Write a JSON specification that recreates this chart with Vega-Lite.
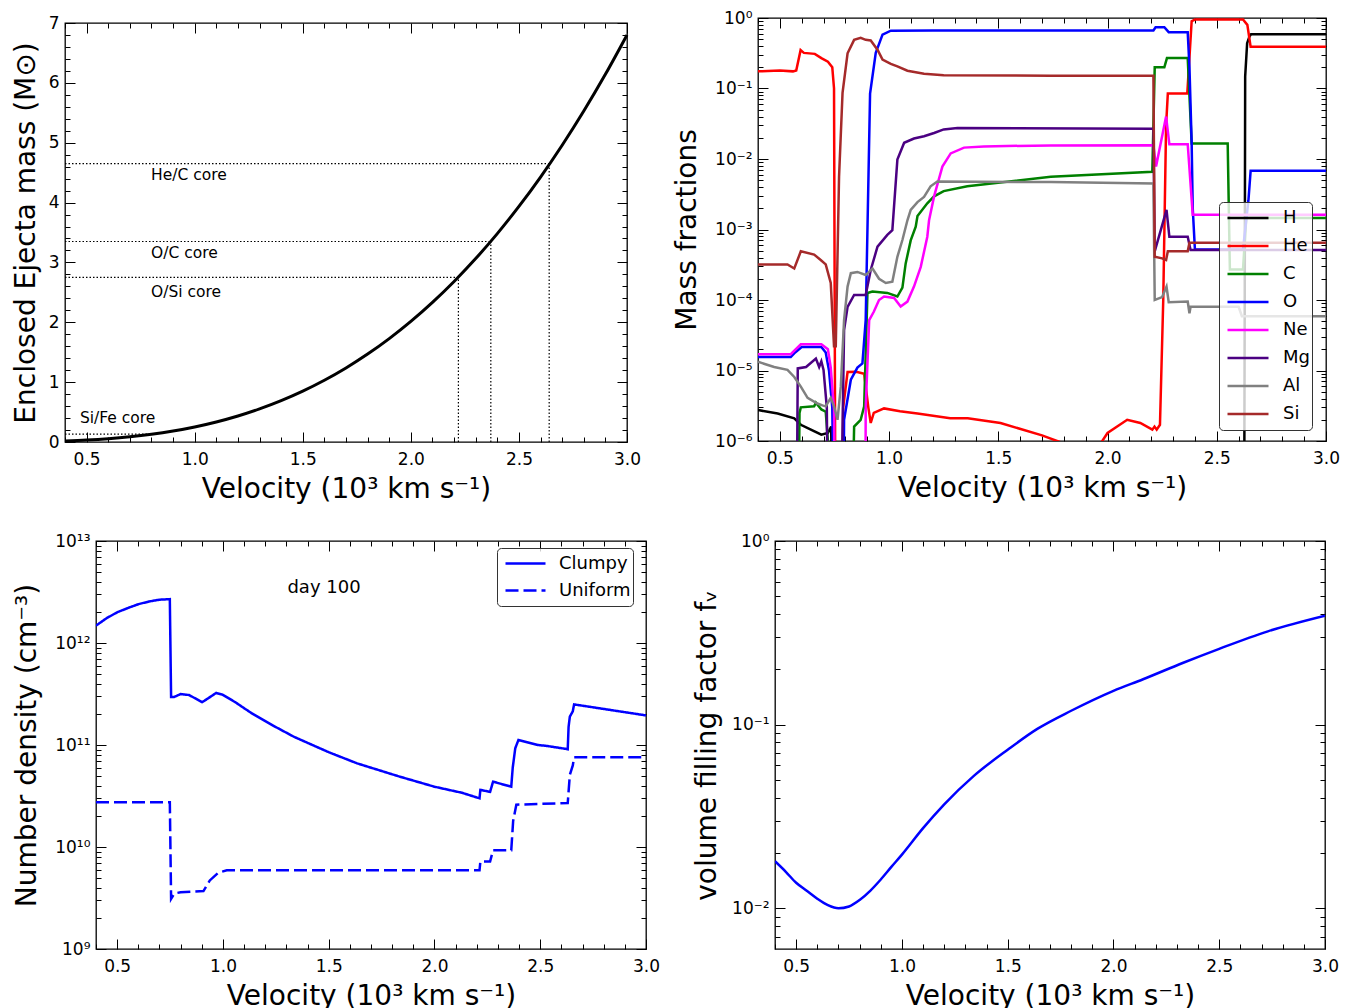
{
  "$schema": "https://vega.github.io/schema/vega-lite/v6.json",
  "padding": {"left": 11, "top": 8, "right": 5, "bottom": 5},
  "background": "white",
  "datasets": {
    "mass": [
      {"v": 0.4, "m": 0.0161}, {"v": 0.5, "m": 0.0315}, {"v": 0.6, "m": 0.0544}, {"v": 0.7, "m": 0.0864},
      {"v": 0.8, "m": 0.1289}, {"v": 0.9, "m": 0.1836}, {"v": 1.0, "m": 0.2519}, {"v": 1.1, "m": 0.3352},
      {"v": 1.2, "m": 0.4352}, {"v": 1.3, "m": 0.5533}, {"v": 1.4, "m": 0.6911}, {"v": 1.5, "m": 0.85},
      {"v": 1.6, "m": 1.0316}, {"v": 1.7, "m": 1.2373}, {"v": 1.8, "m": 1.4688}, {"v": 1.9, "m": 1.7274},
      {"v": 2.0, "m": 2.0148}, {"v": 2.1, "m": 2.3324}, {"v": 2.2, "m": 2.6817}, {"v": 2.3, "m": 3.0642},
      {"v": 2.4, "m": 3.4815}, {"v": 2.5, "m": 3.9352}, {"v": 2.6, "m": 4.4265}, {"v": 2.7, "m": 4.9572},
      {"v": 2.8, "m": 5.5287}, {"v": 2.9, "m": 6.1424}, {"v": 3.0, "m": 6.8}
    ],
    "cores": [
      {"x1": 0.4, "x2": 2.64, "y1": 4.65, "y2": 4.65},
      {"x1": 2.64, "x2": 2.64, "y1": 0, "y2": 4.65},
      {"x1": 0.4, "x2": 2.37, "y1": 3.35, "y2": 3.35},
      {"x1": 2.37, "x2": 2.37, "y1": 0, "y2": 3.35},
      {"x1": 0.4, "x2": 2.22, "y1": 2.75, "y2": 2.75},
      {"x1": 2.22, "x2": 2.22, "y1": 0, "y2": 2.75},
      {"x1": 0.4, "x2": 0.8, "y1": 0.13, "y2": 0.13}
    ],
    "corelabels": [
      {"x": 0.798, "y": 4.46, "t": "He/C core"},
      {"x": 0.798, "y": 3.16, "t": "O/C core"},
      {"x": 0.798, "y": 2.5, "t": "O/Si core"},
      {"x": 0.469, "y": 0.4, "t": "Si/Fe core"}
    ],
    "frac": [
      {"s":"H","v":0.4,"f":2.75e-6},{"s":"H","v":0.49,"f":2.45e-6},{"s":"H","v":0.566,"f":2.1e-6},{"s":"H","v":0.596,"f":1.7e-6},{"s":"H","v":0.642,"f":1.45e-6},{"s":"H","v":0.69,"f":1.23e-6},{"s":"H","v":0.72,"f":1.3e-6},{"s":"H","v":0.735,"f":1.6e-6},{"s":"H","v":0.745,"f":1e-9},{"s":"H","v":2.624,"f":1e-9},{"s":"H","v":2.628,"f":1e-4},{"s":"H","v":2.63,"f":0.148},{"s":"H","v":2.639,"f":0.44},{"s":"H","v":2.65,"f":0.55},{"s":"H","v":2.657,"f":0.59},{"s":"H","v":3.0,"f":0.59},
      {"s":"He","v":0.4,"f":0.175},{"s":"He","v":0.5,"f":0.18},{"s":"He","v":0.56,"f":0.175},{"s":"He","v":0.575,"f":0.18},{"s":"He","v":0.595,"f":0.35},{"s":"He","v":0.61,"f":0.32},{"s":"He","v":0.66,"f":0.31},{"s":"He","v":0.69,"f":0.27},{"s":"He","v":0.72,"f":0.24},{"s":"He","v":0.74,"f":0.2},{"s":"He","v":0.748,"f":0.1},{"s":"He","v":0.756,"f":1e-9},{"s":"He","v":0.78,"f":1e-9},{"s":"He","v":0.79,"f":3e-6},{"s":"He","v":0.81,"f":9.5e-6},{"s":"He","v":0.85,"f":9.6e-6},{"s":"He","v":0.886,"f":9e-6},{"s":"He","v":0.905,"f":3e-6},{"s":"He","v":0.916,"f":1.8e-6},{"s":"He","v":0.93,"f":2.5e-6},{"s":"He","v":0.977,"f":2.9e-6},{"s":"He","v":1.05,"f":2.65e-6},{"s":"He","v":1.13,"f":2.45e-6},{"s":"He","v":1.28,"f":2.1e-6},{"s":"He","v":1.36,"f":2.1e-6},{"s":"He","v":1.51,"f":1.8e-6},{"s":"He","v":1.7,"f":1.2e-6},{"s":"He","v":1.81,"f":9e-7},{"s":"He","v":1.88,"f":5e-7},{"s":"He","v":1.955,"f":8e-7},{"s":"He","v":2.0,"f":1.3e-6},{"s":"He","v":2.09,"f":2.0e-6},{"s":"He","v":2.15,"f":1.8e-6},{"s":"He","v":2.205,"f":1.45e-6},{"s":"He","v":2.215,"f":1.6e-6},{"s":"He","v":2.225,"f":1.45e-6},{"s":"He","v":2.24,"f":1.7e-6},{"s":"He","v":2.255,"f":1e-4},{"s":"He","v":2.268,"f":0.03},{"s":"He","v":2.276,"f":0.085},{"s":"He","v":2.365,"f":0.085},{"s":"He","v":2.385,"f":0.9},{"s":"He","v":2.4,"f":0.95},{"s":"He","v":2.62,"f":0.95},{"s":"He","v":2.64,"f":0.8},{"s":"He","v":2.655,"f":0.39},{"s":"He","v":3.0,"f":0.39},
      {"s":"C","v":0.58,"f":1e-9},{"s":"C","v":0.59,"f":2.5e-6},{"s":"C","v":0.596,"f":3.0e-6},{"s":"C","v":0.657,"f":3.1e-6},{"s":"C","v":0.665,"f":3.5e-6},{"s":"C","v":0.69,"f":2.8e-6},{"s":"C","v":0.71,"f":2.6e-6},{"s":"C","v":0.72,"f":1e-6},{"s":"C","v":0.725,"f":1e-9},{"s":"C","v":0.82,"f":1e-9},{"s":"C","v":0.84,"f":1.6e-6},{"s":"C","v":0.87,"f":2e-6},{"s":"C","v":0.886,"f":3.1e-6},{"s":"C","v":0.901,"f":1.26e-4},{"s":"C","v":0.924,"f":1.32e-4},{"s":"C","v":0.992,"f":1.26e-4},{"s":"C","v":1.038,"f":1.12e-4},{"s":"C","v":1.061,"f":1.5e-4},{"s":"C","v":1.076,"f":3.3e-4},{"s":"C","v":1.099,"f":7e-4},{"s":"C","v":1.122,"f":1.1e-3},{"s":"C","v":1.13,"f":1.55e-3},{"s":"C","v":1.175,"f":2.35e-3},{"s":"C","v":1.206,"f":2.95e-3},{"s":"C","v":1.25,"f":3.5e-3},{"s":"C","v":1.358,"f":4.1e-3},{"s":"C","v":1.74,"f":5.6e-3},{"s":"C","v":2.205,"f":6.6e-3},{"s":"C","v":2.216,"f":0.2},{"s":"C","v":2.26,"f":0.2},{"s":"C","v":2.272,"f":0.27},{"s":"C","v":2.367,"f":0.27},{"s":"C","v":2.385,"f":0.0166},{"s":"C","v":2.55,"f":0.0166},{"s":"C","v":2.56,"f":2.7e-4},{"s":"C","v":2.62,"f":2.7e-4},{"s":"C","v":2.635,"f":1.45e-3},{"s":"C","v":3.0,"f":1.45e-3},
      {"s":"O","v":0.4,"f":1.55e-5},{"s":"O","v":0.55,"f":1.55e-5},{"s":"O","v":0.57,"f":1.8e-5},{"s":"O","v":0.6,"f":2.15e-5},{"s":"O","v":0.69,"f":2.15e-5},{"s":"O","v":0.71,"f":1.8e-5},{"s":"O","v":0.725,"f":1.0e-5},{"s":"O","v":0.74,"f":3e-6},{"s":"O","v":0.756,"f":1e-9},{"s":"O","v":0.787,"f":1e-9},{"s":"O","v":0.794,"f":2e-6},{"s":"O","v":0.825,"f":7.4e-6},{"s":"O","v":0.855,"f":1.1e-5},{"s":"O","v":0.878,"f":1.26e-5},{"s":"O","v":0.893,"f":5.2e-5},{"s":"O","v":0.901,"f":1e-3},{"s":"O","v":0.913,"f":0.085},{"s":"O","v":0.939,"f":0.32},{"s":"O","v":0.97,"f":0.58},{"s":"O","v":1.008,"f":0.66},{"s":"O","v":1.2,"f":0.665},{"s":"O","v":2.21,"f":0.665},{"s":"O","v":2.22,"f":0.74},{"s":"O","v":2.26,"f":0.74},{"s":"O","v":2.28,"f":0.63},{"s":"O","v":2.367,"f":0.63},{"s":"O","v":2.375,"f":0.2},{"s":"O","v":2.385,"f":0.017},{"s":"O","v":2.39,"f":0.002},{"s":"O","v":2.4,"f":5.2e-4},{"s":"O","v":2.62,"f":5.2e-4},{"s":"O","v":2.645,"f":2.6e-3},{"s":"O","v":2.655,"f":6.8e-3},{"s":"O","v":3.0,"f":6.8e-3},
      {"s":"Ne","v":0.4,"f":1.7e-5},{"s":"Ne","v":0.55,"f":1.7e-5},{"s":"Ne","v":0.596,"f":2.35e-5},{"s":"Ne","v":0.69,"f":2.35e-5},{"s":"Ne","v":0.72,"f":2.0e-5},{"s":"Ne","v":0.733,"f":1.1e-5},{"s":"Ne","v":0.748,"f":2.8e-6},{"s":"Ne","v":0.757,"f":1e-9},{"s":"Ne","v":0.89,"f":1e-9},{"s":"Ne","v":0.893,"f":3e-6},{"s":"Ne","v":0.909,"f":5.2e-5},{"s":"Ne","v":0.93,"f":6.8e-5},{"s":"Ne","v":0.954,"f":1e-4},{"s":"Ne","v":0.977,"f":1.12e-4},{"s":"Ne","v":1.023,"f":1.07e-4},{"s":"Ne","v":1.053,"f":8.1e-5},{"s":"Ne","v":1.084,"f":9.5e-5},{"s":"Ne","v":1.114,"f":1.55e-4},{"s":"Ne","v":1.145,"f":2.95e-4},{"s":"Ne","v":1.175,"f":7.9e-4},{"s":"Ne","v":1.183,"f":1.35e-3},{"s":"Ne","v":1.206,"f":2.95e-3},{"s":"Ne","v":1.244,"f":7.8e-3},{"s":"Ne","v":1.282,"f":0.012},{"s":"Ne","v":1.343,"f":0.0145},{"s":"Ne","v":1.434,"f":0.0151},{"s":"Ne","v":1.74,"f":0.0156},{"s":"Ne","v":2.21,"f":0.0157},{"s":"Ne","v":2.222,"f":7.8e-3},{"s":"Ne","v":2.268,"f":0.04},{"s":"Ne","v":2.283,"f":0.0162},{"s":"Ne","v":2.367,"f":0.0162},{"s":"Ne","v":2.39,"f":1.62e-3},{"s":"Ne","v":3.0,"f":1.62e-3},
      {"s":"Mg","v":0.573,"f":1e-9},{"s":"Mg","v":0.582,"f":1.07e-5},{"s":"Mg","v":0.62,"f":1.12e-5},{"s":"Mg","v":0.665,"f":1.48e-5},{"s":"Mg","v":0.68,"f":1.12e-5},{"s":"Mg","v":0.69,"f":1.35e-5},{"s":"Mg","v":0.7,"f":1.02e-5},{"s":"Mg","v":0.715,"f":3e-6},{"s":"Mg","v":0.725,"f":1e-9},{"s":"Mg","v":0.771,"f":1e-9},{"s":"Mg","v":0.794,"f":3.76e-5},{"s":"Mg","v":0.81,"f":8.0e-5},{"s":"Mg","v":0.84,"f":1.18e-4},{"s":"Mg","v":0.893,"f":1.18e-4},{"s":"Mg","v":0.916,"f":2.67e-4},{"s":"Mg","v":0.947,"f":5.7e-4},{"s":"Mg","v":0.992,"f":8.4e-4},{"s":"Mg","v":1.015,"f":9.8e-4},{"s":"Mg","v":1.038,"f":9.8e-3},{"s":"Mg","v":1.069,"f":0.017},{"s":"Mg","v":1.114,"f":0.0195},{"s":"Mg","v":1.16,"f":0.021},{"s":"Mg","v":1.206,"f":0.0234},{"s":"Mg","v":1.25,"f":0.0263},{"s":"Mg","v":1.313,"f":0.0275},{"s":"Mg","v":2.21,"f":0.0268},{"s":"Mg","v":2.216,"f":4.9e-4},{"s":"Mg","v":2.27,"f":1.9e-3},{"s":"Mg","v":2.283,"f":7.9e-4},{"s":"Mg","v":2.367,"f":7.9e-4},{"s":"Mg","v":2.38,"f":5.1e-4},{"s":"Mg","v":3.0,"f":5.1e-4},
      {"s":"Al","v":0.4,"f":1.33e-5},{"s":"Al","v":0.474,"f":1.12e-5},{"s":"Al","v":0.535,"f":1.02e-5},{"s":"Al","v":0.566,"f":8.1e-6},{"s":"Al","v":0.596,"f":5.9e-6},{"s":"Al","v":0.627,"f":4.1e-6},{"s":"Al","v":0.672,"f":3.4e-6},{"s":"Al","v":0.695,"f":3.2e-6},{"s":"Al","v":0.71,"f":3.1e-6},{"s":"Al","v":0.733,"f":4.1e-6},{"s":"Al","v":0.748,"f":3.1e-6},{"s":"Al","v":0.764,"f":2.0e-6},{"s":"Al","v":0.779,"f":5.9e-6},{"s":"Al","v":0.794,"f":5.2e-5},{"s":"Al","v":0.81,"f":1.55e-4},{"s":"Al","v":0.825,"f":2.4e-4},{"s":"Al","v":0.855,"f":2.5e-4},{"s":"Al","v":0.893,"f":2.26e-4},{"s":"Al","v":0.924,"f":2.8e-4},{"s":"Al","v":0.954,"f":2.0e-4},{"s":"Al","v":0.985,"f":1.74e-4},{"s":"Al","v":1.015,"f":1.82e-4},{"s":"Al","v":1.038,"f":4.1e-4},{"s":"Al","v":1.061,"f":7.1e-4},{"s":"Al","v":1.084,"f":1.35e-3},{"s":"Al","v":1.099,"f":1.9e-3},{"s":"Al","v":1.13,"f":2.45e-3},{"s":"Al","v":1.16,"f":2.9e-3},{"s":"Al","v":1.19,"f":4.1e-3},{"s":"Al","v":1.221,"f":4.8e-3},{"s":"Al","v":1.74,"f":4.7e-3},{"s":"Al","v":2.21,"f":4.5e-3},{"s":"Al","v":2.216,"f":1.0e-4},{"s":"Al","v":2.25,"f":1.1e-4},{"s":"Al","v":2.27,"f":1.55e-4},{"s":"Al","v":2.28,"f":9.3e-5},{"s":"Al","v":2.367,"f":9.5e-5},{"s":"Al","v":2.375,"f":6.5e-5},{"s":"Al","v":2.38,"f":8e-5},{"s":"Al","v":2.6,"f":8e-5},{"s":"Al","v":2.615,"f":5.9e-5},{"s":"Al","v":3.0,"f":5.9e-5},
      {"s":"Si","v":0.4,"f":3.2e-4},{"s":"Si","v":0.535,"f":3.2e-4},{"s":"Si","v":0.566,"f":2.8e-4},{"s":"Si","v":0.596,"f":4.9e-4},{"s":"Si","v":0.657,"f":4.4e-4},{"s":"Si","v":0.687,"f":3.7e-4},{"s":"Si","v":0.71,"f":3.2e-4},{"s":"Si","v":0.733,"f":1.74e-4},{"s":"Si","v":0.748,"f":2.2e-5},{"s":"Si","v":0.756,"f":2.2e-5},{"s":"Si","v":0.771,"f":5.6e-3},{"s":"Si","v":0.787,"f":0.087},{"s":"Si","v":0.81,"f":0.316},{"s":"Si","v":0.84,"f":0.49},{"s":"Si","v":0.87,"f":0.525},{"s":"Si","v":0.893,"f":0.49},{"s":"Si","v":0.916,"f":0.48},{"s":"Si","v":0.947,"f":0.355},{"s":"Si","v":0.97,"f":0.257},{"s":"Si","v":1.008,"f":0.224},{"s":"Si","v":1.038,"f":0.206},{"s":"Si","v":1.084,"f":0.179},{"s":"Si","v":1.16,"f":0.162},{"s":"Si","v":1.25,"f":0.154},{"s":"Si","v":1.74,"f":0.152},{"s":"Si","v":2.21,"f":0.152},{"s":"Si","v":2.216,"f":4.1e-4},{"s":"Si","v":2.25,"f":3.9e-4},{"s":"Si","v":2.268,"f":3.7e-4},{"s":"Si","v":2.276,"f":4.9e-4},{"s":"Si","v":2.367,"f":4.9e-4},{"s":"Si","v":2.375,"f":6.5e-4},{"s":"Si","v":3.0,"f":6.5e-4}
    ],
    "dens": [
      {"t":"Clumpy","v":0.4,"n":1.48e12},{"t":"Clumpy","v":0.45,"n":1.75e12},{"t":"Clumpy","v":0.5,"n":2.0e12},{"t":"Clumpy","v":0.55,"n":2.2e12},{"t":"Clumpy","v":0.6,"n":2.4e12},{"t":"Clumpy","v":0.65,"n":2.55e12},{"t":"Clumpy","v":0.7,"n":2.66e12},{"t":"Clumpy","v":0.749,"n":2.69e12},{"t":"Clumpy","v":0.755,"n":2.95e11},{"t":"Clumpy","v":0.769,"n":2.95e11},{"t":"Clumpy","v":0.8,"n":3.16e11},{"t":"Clumpy","v":0.84,"n":3.09e11},{"t":"Clumpy","v":0.902,"n":2.63e11},{"t":"Clumpy","v":0.928,"n":2.85e11},{"t":"Clumpy","v":0.968,"n":3.24e11},{"t":"Clumpy","v":0.998,"n":3.12e11},{"t":"Clumpy","v":1.058,"n":2.63e11},{"t":"Clumpy","v":1.137,"n":2.04e11},{"t":"Clumpy","v":1.237,"n":1.55e11},{"t":"Clumpy","v":1.337,"n":1.2e11},{"t":"Clumpy","v":1.5,"n":8.5e10},{"t":"Clumpy","v":1.635,"n":6.6e10},{"t":"Clumpy","v":1.835,"n":4.9e10},{"t":"Clumpy","v":2.0,"n":3.9e10},{"t":"Clumpy","v":2.13,"n":3.4e10},{"t":"Clumpy","v":2.213,"n":3.0e10},{"t":"Clumpy","v":2.217,"n":3.63e10},{"t":"Clumpy","v":2.263,"n":3.47e10},{"t":"Clumpy","v":2.277,"n":4.37e10},{"t":"Clumpy","v":2.363,"n":3.9e10},{"t":"Clumpy","v":2.37,"n":6e10},{"t":"Clumpy","v":2.382,"n":9.3e10},{"t":"Clumpy","v":2.397,"n":1.12e11},{"t":"Clumpy","v":2.49,"n":1.0e11},{"t":"Clumpy","v":2.53,"n":9.8e10},{"t":"Clumpy","v":2.63,"n":9.1e10},{"t":"Clumpy","v":2.634,"n":1.5e11},{"t":"Clumpy","v":2.64,"n":1.9e11},{"t":"Clumpy","v":2.654,"n":2.14e11},{"t":"Clumpy","v":2.66,"n":2.5e11},{"t":"Clumpy","v":3.0,"n":1.95e11},
      {"t":"Uniform","v":0.4,"n":2.75e10},{"t":"Uniform","v":0.749,"n":2.75e10},{"t":"Uniform","v":0.755,"n":3.1e9},{"t":"Uniform","v":0.77,"n":3.5e9},{"t":"Uniform","v":0.8,"n":3.6e9},{"t":"Uniform","v":0.908,"n":3.7e9},{"t":"Uniform","v":0.938,"n":4.7e9},{"t":"Uniform","v":0.978,"n":5.6e9},{"t":"Uniform","v":1.018,"n":5.9e9},{"t":"Uniform","v":2.213,"n":5.9e9},{"t":"Uniform","v":2.217,"n":7.2e9},{"t":"Uniform","v":2.263,"n":7.2e9},{"t":"Uniform","v":2.277,"n":9.3e9},{"t":"Uniform","v":2.363,"n":9.3e9},{"t":"Uniform","v":2.372,"n":1.8e10},{"t":"Uniform","v":2.387,"n":2.6e10},{"t":"Uniform","v":2.63,"n":2.7e10},{"t":"Uniform","v":2.64,"n":5.1e10},{"t":"Uniform","v":2.654,"n":6.3e10},{"t":"Uniform","v":2.66,"n":7.6e10},{"t":"Uniform","v":3.0,"n":7.6e10}
    ],
    "daylabel": [{"v": 1.478, "n": 3.5e12, "t": "day 100"}],
    "ff": [
      {"v":0.4,"f":0.01803},{"v":0.45,"f":0.01585},{"v":0.5,"f":0.01377},{"v":0.55,"f":0.01245},{"v":0.6,"f":0.01127},{"v":0.65,"f":0.0104},{"v":0.7,"f":0.0100},{"v":0.75,"f":0.01023},{"v":0.8,"f":0.01109},{"v":0.85,"f":0.01245},{"v":0.9,"f":0.01435},{"v":0.95,"f":0.01679},{"v":1.0,"f":0.01959},{"v":1.1,"f":0.0273},{"v":1.2,"f":0.0368},{"v":1.34,"f":0.0526},{"v":1.5,"f":0.073},{"v":1.64,"f":0.0948},{"v":1.8,"f":0.119},{"v":2.0,"f":0.1528},{"v":2.14,"f":0.1766},{"v":2.33,"f":0.2173},{"v":2.5,"f":0.2588},{"v":2.73,"f":0.3221},{"v":3.0,"f":0.3917}
    ]
  },
  "vconcat": [
    {
      "hconcat": [
        {
          "vconcat": [
            {"width": 1, "height": 1, "view": {"stroke": null}, "data": {"values": []}, "mark": "point"},
            {
              "width": 562, "height": 419,
              "layer": [
                {
                  "data": {"name": "mass"},
                  "mark": {"type": "line", "color": "black", "strokeWidth": 3, "interpolate": "monotone"},
                  "encoding": {
                    "x": {"field": "v", "type": "quantitative", "scale": {"domain": [0.4, 3.0], "nice": false, "zero": false},
                      "axis": {"orient": "bottom", "values": [0.4,0.5,0.6,0.7,0.8,0.9,1.0,1.1,1.2,1.3,1.4,1.5,1.6,1.7,1.8,1.9,2.0,2.1,2.2,2.3,2.4,2.5,2.6,2.7,2.8,2.9,3.0],
                        "title": "Velocity (10³ km s⁻¹)", "labelExpr": "abs(datum.value*2-round(datum.value*2))<0.001 ? format(datum.value,'.1f') : ''",
                        "tickSize": {"condition": {"test": "abs(datum.value*2-round(datum.value*2))<0.001", "value": -10}, "value": -5},
                        "labelPadding": 19, "titlePadding": 3}},
                    "y": {"field": "m", "type": "quantitative", "scale": {"domain": [0, 7], "nice": false},
                      "axis": {"orient": "left", "values": [0,0.2,0.4,0.6,0.8,1,1.2,1.4,1.6,1.8,2,2.2,2.4,2.6,2.8,3,3.2,3.4,3.6,3.8,4,4.2,4.4,4.6,4.8,5,5.2,5.4,5.6,5.8,6,6.2,6.4,6.6,6.8,7],
                        "title": "Enclosed Ejecta mass (M⊙)", "labelExpr": "abs(datum.value-round(datum.value))<0.001 ? format(datum.value,'d') : ''",
                        "tickSize": {"condition": {"test": "abs(datum.value-round(datum.value))<0.001", "value": -10}, "value": -5},
                        "labelPadding": 16, "titlePadding": 8}}
                  }
                },
                {
                  "data": {"name": "cores"},
                  "mark": {"type": "rule", "color": "black", "strokeWidth": 1.2, "strokeDash": [1.5, 2]},
                  "encoding": {
                    "x": {"field": "x1", "type": "quantitative", "axis": null},
                    "x2": {"field": "x2"},
                    "y": {"field": "y1", "type": "quantitative", "axis": null},
                    "y2": {"field": "y2"}
                  }
                },
                {
                  "data": {"name": "corelabels"},
                  "mark": {"type": "text", "align": "left", "baseline": "middle", "fontSize": 15.5, "color": "black"},
                  "encoding": {
                    "x": {"field": "x", "type": "quantitative", "axis": null},
                    "y": {"field": "y", "type": "quantitative", "axis": null},
                    "text": {"field": "t"}
                  }
                },
                {
                  "data": {"name": "mass"},
                  "mark": {"type": "line", "strokeOpacity": 0},
                  "encoding": {
                    "x": {"field": "v", "type": "quantitative",
                      "axis": {"orient": "top", "values": [0.4,0.5,0.6,0.7,0.8,0.9,1.0,1.1,1.2,1.3,1.4,1.5,1.6,1.7,1.8,1.9,2.0,2.1,2.2,2.3,2.4,2.5,2.6,2.7,2.8,2.9,3.0],
                        "title": null, "labels": false,
                        "tickSize": {"condition": {"test": "abs(datum.value*2-round(datum.value*2))<0.001", "value": -10}, "value": -5}}},
                    "y": {"field": "m", "type": "quantitative",
                      "axis": {"orient": "right", "values": [0,0.2,0.4,0.6,0.8,1,1.2,1.4,1.6,1.8,2,2.2,2.4,2.6,2.8,3,3.2,3.4,3.6,3.8,4,4.2,4.4,4.6,4.8,5,5.2,5.4,5.6,5.8,6,6.2,6.4,6.6,6.8,7],
                        "title": null, "labels": false,
                        "tickSize": {"condition": {"test": "abs(datum.value-round(datum.value))<0.001", "value": -10}, "value": -5}}}
                  }
                }
              ],
              "resolve": {"axis": {"x": "independent", "y": "independent"}}
            }
          ],
          "spacing": -6,
          "bounds": "full",
          "resolve": {"scale": {"x": "independent", "y": "independent"}}
        },
        {
          "width": 568, "height": 423,
          "layer": [
            {
              "data": {"name": "frac"},
              "mark": {"type": "line", "strokeWidth": 2.5, "clip": true},
              "encoding": {
                "x": {"field": "v", "type": "quantitative", "scale": {"domain": [0.4, 3.0], "nice": false, "zero": false},
                  "axis": {"orient": "bottom", "values": [0.4,0.5,0.6,0.7,0.8,0.9,1.0,1.1,1.2,1.3,1.4,1.5,1.6,1.7,1.8,1.9,2.0,2.1,2.2,2.3,2.4,2.5,2.6,2.7,2.8,2.9,3.0],
                    "title": "Velocity (10³ km s⁻¹)", "labelExpr": "abs(datum.value*2-round(datum.value*2))<0.001 ? format(datum.value,'.1f') : ''",
                    "tickSize": {"condition": {"test": "abs(datum.value*2-round(datum.value*2))<0.001", "value": -10}, "value": -5},
                    "labelPadding": 19, "titlePadding": 3}},
                "y": {"field": "f", "type": "quantitative", "scale": {"type": "log", "domain": [0.000001, 1], "nice": false},
                  "axis": {"orient": "left", "values": [1e-6,2e-6,3e-6,4e-6,5e-6,6e-6,7e-6,8e-6,9e-6,1e-5,2e-5,3e-5,4e-5,5e-5,6e-5,7e-5,8e-5,9e-5,1e-4,2e-4,3e-4,4e-4,5e-4,6e-4,7e-4,8e-4,9e-4,1e-3,2e-3,3e-3,4e-3,5e-3,6e-3,7e-3,8e-3,9e-3,0.01,0.02,0.03,0.04,0.05,0.06,0.07,0.08,0.09,0.1,0.2,0.3,0.4,0.5,0.6,0.7,0.8,0.9,1],
                    "title": "Mass fractions",
                    "labelExpr": "datum.value==1?'10⁰':datum.value==0.1?'10⁻¹':datum.value==0.01?'10⁻²':datum.value==0.001?'10⁻³':datum.value==0.0001?'10⁻⁴':datum.value==0.00001?'10⁻⁵':datum.value==0.000001?'10⁻⁶':''",
                    "tickSize": {"condition": {"test": "abs(log(datum.value)/LN10-round(log(datum.value)/LN10))<0.001", "value": -10}, "value": -5},
                    "labelPadding": 16, "titlePadding": 13}},
                "color": {"field": "s", "type": "nominal",
                  "scale": {"domain": ["H","He","C","O","Ne","Mg","Al","Si"], "range": ["#000000","#ff0000","#008000","#0000ff","#ff00ff","#4b0082","#808080","#a52a2a"]},
                  "legend": {"orient": "none", "legendX": 461, "legendY": 184, "title": null, "symbolType": "stroke", "symbolStrokeWidth": 2.5, "symbolSize": 1681,
                    "symbolOffset": 5, "labelFontSize": 18, "labelOffset": 13, "clipHeight": 28, "rowPadding": 0, "padding": 2,
                    "fillColor": "rgba(255,255,255,0.8)", "strokeColor": "#333333", "cornerRadius": 4}}
              }
            },
            {
              "data": {"name": "ff"},
              "mark": {"type": "line", "strokeOpacity": 0},
              "encoding": {
                "x": {"field": "v", "type": "quantitative",
                  "axis": {"orient": "top", "values": [0.4,0.5,0.6,0.7,0.8,0.9,1.0,1.1,1.2,1.3,1.4,1.5,1.6,1.7,1.8,1.9,2.0,2.1,2.2,2.3,2.4,2.5,2.6,2.7,2.8,2.9,3.0],
                    "title": null, "labels": false,
                    "tickSize": {"condition": {"test": "abs(datum.value*2-round(datum.value*2))<0.001", "value": -10}, "value": -5}}},
                "y": {"field": "f", "type": "quantitative",
                  "axis": {"orient": "right", "values": [1e-6,2e-6,3e-6,4e-6,5e-6,6e-6,7e-6,8e-6,9e-6,1e-5,2e-5,3e-5,4e-5,5e-5,6e-5,7e-5,8e-5,9e-5,1e-4,2e-4,3e-4,4e-4,5e-4,6e-4,7e-4,8e-4,9e-4,1e-3,2e-3,3e-3,4e-3,5e-3,6e-3,7e-3,8e-3,9e-3,0.01,0.02,0.03,0.04,0.05,0.06,0.07,0.08,0.09,0.1,0.2,0.3,0.4,0.5,0.6,0.7,0.8,0.9,1],
                    "title": null, "labels": false,
                    "tickSize": {"condition": {"test": "abs(log(datum.value)/LN10-round(log(datum.value)/LN10))<0.001", "value": -10}, "value": -5}}}
              }
            }
          ],
          "resolve": {"axis": {"x": "independent", "y": "independent"}}
        }
      ],
      "spacing": 30,
      "bounds": "full",
      "resolve": {"scale": {"x": "independent", "y": "independent", "color": "independent"}}
    },
    {
      "hconcat": [
        {"width": 1, "height": 1, "view": {"stroke": null}, "data": {"values": []}, "mark": "point"},
        {
          "hconcat": [
            {
              "width": 550, "height": 408,
              "layer": [
                {
                  "data": {"name": "dens"},
                  "mark": {"type": "line", "strokeWidth": 2.5, "color": "#0000ff", "clip": true},
                  "encoding": {
                    "x": {"field": "v", "type": "quantitative", "scale": {"domain": [0.4, 3.0], "nice": false, "zero": false},
                      "axis": {"orient": "bottom", "values": [0.4,0.5,0.6,0.7,0.8,0.9,1.0,1.1,1.2,1.3,1.4,1.5,1.6,1.7,1.8,1.9,2.0,2.1,2.2,2.3,2.4,2.5,2.6,2.7,2.8,2.9,3.0],
                        "title": "Velocity (10³ km s⁻¹)", "labelExpr": "abs(datum.value*2-round(datum.value*2))<0.001 ? format(datum.value,'.1f') : ''",
                        "tickSize": {"condition": {"test": "abs(datum.value*2-round(datum.value*2))<0.001", "value": -10}, "value": -5},
                        "labelPadding": 19, "titlePadding": 3}},
                    "y": {"field": "n", "type": "quantitative", "scale": {"type": "log", "domain": [1000000000, 10000000000000], "nice": false},
                      "axis": {"orient": "left", "values": [1e9,2e9,3e9,4e9,5e9,6e9,7e9,8e9,9e9,1e10,2e10,3e10,4e10,5e10,6e10,7e10,8e10,9e10,1e11,2e11,3e11,4e11,5e11,6e11,7e11,8e11,9e11,1e12,2e12,3e12,4e12,5e12,6e12,7e12,8e12,9e12,1e13],
                        "title": "Number density (cm⁻³)",
                        "labelExpr": "datum.value==10000000000000?'10¹³':datum.value==1000000000000?'10¹²':datum.value==100000000000?'10¹¹':datum.value==10000000000?'10¹⁰':datum.value==1000000000?'10⁹':''",
                        "tickSize": {"condition": {"test": "abs(log(datum.value)/LN10-round(log(datum.value)/LN10))<0.001", "value": -10}, "value": -5},
                        "labelPadding": 16, "titlePadding": 13}},
                    "strokeDash": {"field": "t", "type": "nominal",
                      "scale": {"domain": ["Clumpy", "Uniform"], "range": [[1, 0], [13, 5]]},
                      "legend": {"orient": "none", "legendX": 401, "legendY": 7, "title": null, "symbolType": "stroke", "symbolStrokeWidth": 2.5, "symbolSize": 1600,
                        "symbolOffset": 5, "symbolStrokeColor": "#0000ff", "labelFontSize": 18, "labelOffset": 12, "clipHeight": 27, "rowPadding": 0, "padding": 2,
                        "fillColor": "rgba(255,255,255,0.8)", "strokeColor": "#333333", "cornerRadius": 4}}
                  }
                },
                {
                  "data": {"name": "daylabel"},
                  "mark": {"type": "text", "align": "center", "baseline": "middle", "fontSize": 18, "color": "black"},
                  "encoding": {
                    "x": {"field": "v", "type": "quantitative", "axis": null},
                    "y": {"field": "n", "type": "quantitative", "axis": null},
                    "text": {"field": "t"}
                  }
                },
                {
                  "data": {"name": "daylabel"},
                  "mark": {"type": "point", "opacity": 0},
                  "encoding": {
                    "x": {"field": "v", "type": "quantitative",
                      "axis": {"orient": "top", "values": [0.4,0.5,0.6,0.7,0.8,0.9,1.0,1.1,1.2,1.3,1.4,1.5,1.6,1.7,1.8,1.9,2.0,2.1,2.2,2.3,2.4,2.5,2.6,2.7,2.8,2.9,3.0],
                        "title": null, "labels": false,
                        "tickSize": {"condition": {"test": "abs(datum.value*2-round(datum.value*2))<0.001", "value": -10}, "value": -5}}},
                    "y": {"field": "n", "type": "quantitative",
                      "axis": {"orient": "right", "values": [1e9,2e9,3e9,4e9,5e9,6e9,7e9,8e9,9e9,1e10,2e10,3e10,4e10,5e10,6e10,7e10,8e10,9e10,1e11,2e11,3e11,4e11,5e11,6e11,7e11,8e11,9e11,1e12,2e12,3e12,4e12,5e12,6e12,7e12,8e12,9e12,1e13],
                        "title": null, "labels": false,
                        "tickSize": {"condition": {"test": "abs(log(datum.value)/LN10-round(log(datum.value)/LN10))<0.001", "value": -10}, "value": -5}}}
                  }
                }
              ],
              "resolve": {"axis": {"x": "independent", "y": "independent"}}
            },
            {
              "width": 550, "height": 408,
              "layer": [
                {
                  "data": {"name": "ff"},
                  "mark": {"type": "line", "strokeWidth": 2.5, "color": "#0000ff", "interpolate": "monotone", "clip": true},
                  "encoding": {
                    "x": {"field": "v", "type": "quantitative", "scale": {"domain": [0.4, 3.0], "nice": false, "zero": false},
                      "axis": {"orient": "bottom", "values": [0.4,0.5,0.6,0.7,0.8,0.9,1.0,1.1,1.2,1.3,1.4,1.5,1.6,1.7,1.8,1.9,2.0,2.1,2.2,2.3,2.4,2.5,2.6,2.7,2.8,2.9,3.0],
                        "title": "Velocity (10³ km s⁻¹)", "labelExpr": "abs(datum.value*2-round(datum.value*2))<0.001 ? format(datum.value,'.1f') : ''",
                        "tickSize": {"condition": {"test": "abs(datum.value*2-round(datum.value*2))<0.001", "value": -10}, "value": -5},
                        "labelPadding": 19, "titlePadding": 3}},
                    "y": {"field": "f", "type": "quantitative", "scale": {"type": "log", "domain": [0.006, 1], "nice": false},
                      "axis": {"orient": "left", "values": [0.007,0.008,0.009,0.01,0.02,0.03,0.04,0.05,0.06,0.07,0.08,0.09,0.1,0.2,0.3,0.4,0.5,0.6,0.7,0.8,0.9,1],
                        "title": "volume filling factor fᵥ",
                        "labelExpr": "datum.value==1?'10⁰':datum.value==0.1?'10⁻¹':datum.value==0.01?'10⁻²':''",
                        "tickSize": {"condition": {"test": "abs(log(datum.value)/LN10-round(log(datum.value)/LN10))<0.001", "value": -10}, "value": -5},
                        "labelPadding": 16, "titlePadding": 10}}
                  }
                },
                {
                  "data": {"name": "ff"},
                  "mark": {"type": "line", "strokeOpacity": 0},
                  "encoding": {
                    "x": {"field": "v", "type": "quantitative",
                      "axis": {"orient": "top", "values": [0.4,0.5,0.6,0.7,0.8,0.9,1.0,1.1,1.2,1.3,1.4,1.5,1.6,1.7,1.8,1.9,2.0,2.1,2.2,2.3,2.4,2.5,2.6,2.7,2.8,2.9,3.0],
                        "title": null, "labels": false,
                        "tickSize": {"condition": {"test": "abs(datum.value*2-round(datum.value*2))<0.001", "value": -10}, "value": -5}}},
                    "y": {"field": "f", "type": "quantitative",
                      "axis": {"orient": "right", "values": [0.007,0.008,0.009,0.01,0.02,0.03,0.04,0.05,0.06,0.07,0.08,0.09,0.1,0.2,0.3,0.4,0.5,0.6,0.7,0.8,0.9,1],
                        "title": null, "labels": false,
                        "tickSize": {"condition": {"test": "abs(log(datum.value)/LN10-round(log(datum.value)/LN10))<0.001", "value": -10}, "value": -5}}}
                  }
                }
              ],
              "resolve": {"axis": {"x": "independent", "y": "independent"}}
            }
          ],
          "spacing": 31,
          "bounds": "full",
          "resolve": {"scale": {"x": "independent", "y": "independent", "strokeDash": "independent"}}
        }
      ],
      "spacing": -53,
      "bounds": "full",
      "resolve": {"scale": {"x": "independent", "y": "independent", "strokeDash": "independent"}}
    }
  ],
  "spacing": 27,
  "bounds": "full",
  "resolve": {"scale": {"x": "independent", "y": "independent", "color": "independent", "strokeDash": "independent"}},
  "config": {
    "font": "DejaVu Sans",
    "view": {"stroke": "black", "strokeWidth": 1.3},
    "axis": {"grid": false, "domain": false, "ticks": true, "tickColor": "black", "tickWidth": 1, "labelColor": "black", "labelFont": "DejaVu Sans", "labelFontSize": 17,
      "titleFont": "DejaVu Sans", "titleFontSize": 28, "titleFontWeight": "normal", "titleColor": "black", "labelFlush": false, "labelOverlap": false, "labelBound": false},
    "legend": {"labelFont": "DejaVu Sans", "labelColor": "black"},
    "text": {"font": "DejaVu Sans", "color": "black"}
  }
}
